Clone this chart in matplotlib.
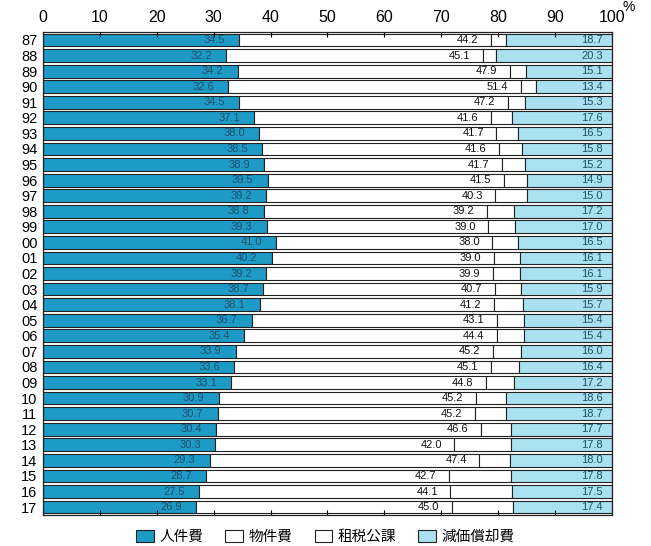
import matplotlib
matplotlib.use("Agg")
import matplotlib.pyplot as plt
import numpy as np

plt.rcParams['font.family'] = ['Liberation Sans', 'Noto Sans CJK JP', 'DejaVu Sans']

years = ['87', '88', '89', '90', '91', '92', '93', '94', '95', '96', '97', '98', '99', '00', '01',
         '02', '03', '04', '05', '06', '07', '08', '09', '10', '11', '12', '13', '14', '15', '16', '17']
personnel = [34.5, 32.2, 34.2, 32.6, 34.5, 37.1, 38.0, 38.5, 38.9, 39.5, 39.2, 38.8, 39.3, 41.0, 40.2,
             39.2, 38.7, 38.1, 36.7, 35.4, 33.9, 33.6, 33.1, 30.9, 30.7, 30.4, 30.3, 29.3, 28.7, 27.5, 26.9]
materials = [44.2, 45.1, 47.9, 51.4, 47.2, 41.6, 41.7, 41.6, 41.7, 41.5, 40.3, 39.2, 39.0, 38.0, 39.0,
             39.9, 40.7, 41.2, 43.1, 44.4, 45.2, 45.1, 44.8, 45.2, 45.2, 46.6, 42.0, 47.4, 42.7, 44.1, 45.0]
taxes = [2.6, 2.4, 2.8, 2.6, 3.0, 3.7, 3.8, 4.1, 4.2, 4.1, 5.5, 4.8, 4.7, 4.5, 4.7,
         4.8, 4.7, 5.0, 4.8, 4.8, 4.9, 4.9, 4.9, 5.3, 5.4, 5.3, 9.9, 5.3, 10.8, 10.9, 10.7]
depreciation = [18.7, 20.3, 15.1, 13.4, 15.3, 17.6, 16.5, 15.8, 15.2, 14.9, 15.0, 17.2, 17.0, 16.5, 16.1,
                16.1, 15.9, 15.7, 15.4, 15.4, 16.0, 16.4, 17.2, 18.6, 18.7, 17.7, 17.8, 18.0, 17.8, 17.5, 17.4]
labels = ['人件費', '物件費', '租税公課', '減価償却費']

blue = '#1d9bc6'
light = '#a9e1f0'
edge = '#222222'

fig = plt.figure(figsize=(6.51, 5.46), dpi=100)
ax = fig.add_axes([0.066, 0.057, 0.874, 0.884])

y = np.arange(len(years))
p = np.array(personnel)
m = np.array(materials)
t = np.array(taxes)
d = np.array(depreciation)
h = 0.82

ax.barh(y, p, height=h, color=blue, edgecolor=edge, linewidth=0.8, label=labels[0])
ax.barh(y, m, left=p, height=h, color='white', edgecolor=edge, linewidth=0.8, label=labels[1])
ax.barh(y, t, left=p + m, height=h, color='white', edgecolor=edge, linewidth=0.8, label=labels[2])
ax.barh(y, d, left=p + m + t, height=h, color=light, edgecolor=edge, linewidth=0.8, label=labels[3])

for i in range(len(years)):
    ax.text(p[i] - 2.5, y[i], f'{p[i]:.1f}', ha='right', va='center', fontsize=8, color='#1f4f6a')
    ax.text(p[i] + m[i] - 2.2, y[i], f'{m[i]:.1f}', ha='right', va='center', fontsize=8, color='#111111')
    ax.text(98.4, y[i], f'{d[i]:.1f}', ha='right', va='center', fontsize=8, color='#1f4f6a')

ax.set_xlim(0, 100)
ax.set_ylim(len(years) - 0.5, -0.5)
ax.set_xticks(range(0, 101, 10))
ax.set_yticks(y)
ax.set_yticklabels(years, fontsize=10.5)
ax.xaxis.tick_top()
ax.tick_params(axis='x', which='both', top=True, bottom=True, direction='in', labelsize=11.5, pad=5)
ax.tick_params(axis='y', length=0, pad=4)
for s in ax.spines.values():
    s.set_color(edge)
    s.set_linewidth(0.9)

fig.text(0.966, 1.0, '%', ha='center', va='top', fontsize=10)

fig.legend(loc='center', bbox_to_anchor=(0.5, 0.017), ncol=4, frameon=False, fontsize=10.5,
           handlelength=1.2, handleheight=0.9, columnspacing=1.5, handletextpad=0.4)

fig.savefig('out.png', dpi=100)
